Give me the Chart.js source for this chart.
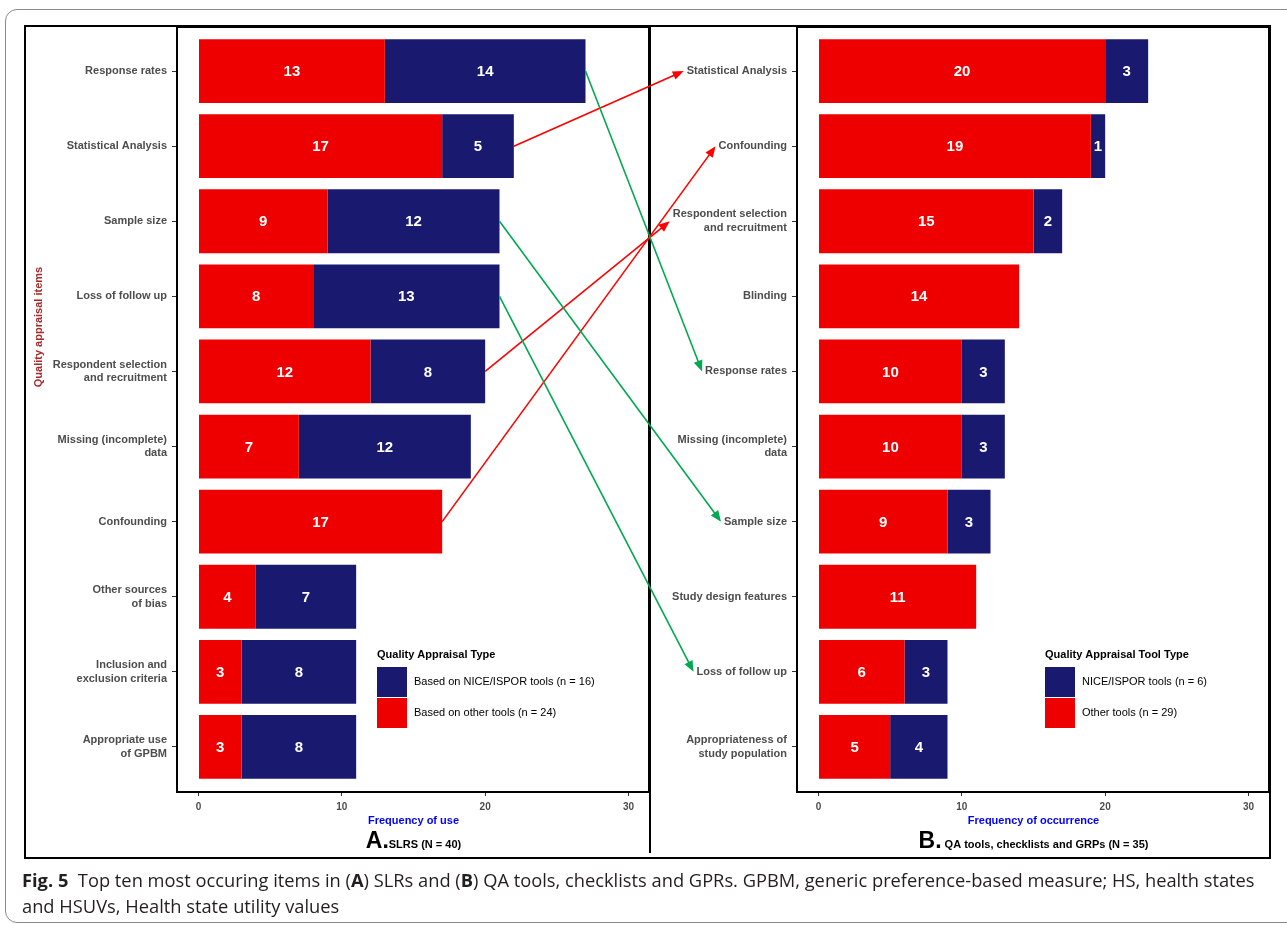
<!DOCTYPE html>
<html>
<head>
<meta charset="utf-8">
<script src="https://cdn.jsdelivr.net/npm/chart.js@4.4.0/dist/chart.umd.min.js"></script>
<style>
  body { margin: 0; width: 1287px; height: 925px; position: relative; background: #fff; overflow: hidden; font-family: "Liberation Sans", Arial, sans-serif; }
  #cadre { position: absolute; left: 5px; top: 9px; width: 1300px; height: 914px; border: 1px solid #8a8a8a; border-radius: 12px; box-sizing: border-box; }
  #wrapA { position: absolute; left: 25px; top: 26px; width: 625px; height: 832px; }
  #wrapB { position: absolute; left: 650px; top: 26px; width: 620px; height: 832px; }
  #setas { position: absolute; left: 0; top: 0; pointer-events: none; }
  .legenda { position: absolute; left: 22px; font-family: "Open Sans", "Noto Sans", sans-serif; font-size: 18.3px; color: #231f20; white-space: nowrap; }
</style>
</head>
<body>
<div id="cadre"></div>
<div id="wrapA"><canvas id="graficoA" width="625" height="832"></canvas></div>
<div id="wrapB"><canvas id="graficoB" width="620" height="832"></canvas></div>
<canvas id="setas" width="1287" height="925"></canvas>
<div class="legenda" style="top:867px"><b>Fig. 5</b>&nbsp; Top ten most occuring items in (<b>A</b>) SLRs and (<b>B</b>) QA tools, checklists and GPRs. GPBM, generic preference-based measure; HS, health states</div>
<div class="legenda" style="top:893px">and HSUVs, Health state utility values</div>

<script>
// painel A: SLRs
const itensA = [
  "Response rates", "Statistical Analysis", "Sample size", "Loss of follow up",
  ["Respondent selection", "and recruitment"], ["Missing (incomplete)", "data"],
  "Confounding", ["Other sources", "of bias"], ["Inclusion and", "exclusion criteria"],
  ["Appropriate use", "of GPBM"]
];
const outrasA = [13, 17, 9, 8, 12, 7, 17, 4, 3, 3];
const niceA = [14, 5, 12, 13, 8, 12, 0, 7, 8, 8];

// painel B: ferramentas QA
const itensB = [
  "Statistical Analysis", "Confounding", ["Respondent selection", "and recruitment"],
  "Blinding", "Response rates", ["Missing (incomplete)", "data"], "Sample size",
  "Study design features", "Loss of follow up", ["Appropriateness of", "study population"]
];
const outrasB = [20, 19, 15, 14, 10, 10, 9, 11, 6, 5];
const niceB = [3, 1, 2, 0, 3, 3, 3, 0, 3, 4];

const ticksX = [0, 10, 20, 30];

// setas: [indice em A, indice em B, cor]
const ligacoes = [
  [1, 0, "#ff0000"],
  [4, 2, "#ff0000"],
  [6, 1, "#ff0000"],
  [0, 4, "#00a84f"],
  [2, 6, "#00a84f"],
  [3, 8, "#00a84f"]
];

const VERMELHO = "#ee0000";
const AZUL = "#191970";
const CINZA = "#4d4d4d";
const FONTE = "'Liberation Sans', Arial, sans-serif";

const painelPlugin = {
  id: "painel",
  afterDatasetsDraw(chart) {
    const ctx = chart.ctx;
    ctx.save();
    ctx.font = "bold 15px " + FONTE;
    ctx.fillStyle = "#fff";
    ctx.textAlign = "center";
    ctx.textBaseline = "middle";
    chart.data.datasets.forEach((ds, i) => {
      chart.getDatasetMeta(i).data.forEach((barra, j) => {
        const v = ds.data[j].x;
        if (!v) return;
        ctx.fillText(v, (barra.x + barra.base) / 2, barra.y + 1);
      });
    });
    ctx.restore();
  },
  afterDraw(chart, args, opts) {
    const ctx = chart.ctx;
    const ca = chart.chartArea;
    ctx.save();
    // moldura do painel
    ctx.strokeStyle = "#000";
    ctx.lineWidth = 2;
    ctx.strokeRect(ca.left, ca.top + 1, ca.width - 1, ca.height - 1);

    // legenda
    const lx = ca.left + opts.legX;
    const ly = ca.top + opts.legY;
    ctx.fillStyle = "#000";
    ctx.font = "bold 11px " + FONTE;
    ctx.textAlign = "left";
    ctx.textBaseline = "middle";
    ctx.fillText(opts.legTitulo, lx, ly);
    const ordem = [1, 0];
    ordem.forEach((d, k) => {
      const ds = chart.data.datasets[d];
      const ky = ly + 12 + k * 31;
      ctx.fillStyle = ds.backgroundColor;
      ctx.fillRect(lx, ky, 30, 30);
      ctx.fillStyle = "#000";
      ctx.font = "11px " + FONTE;
      ctx.fillText(ds.label, lx + 37, ky + 15);
    });

    // titulo do eixo x
    const cx = (ca.left + ca.right) / 2;
    ctx.textAlign = "center";
    ctx.fillStyle = "#0000ff";
    ctx.font = "bold 11px " + FONTE;
    ctx.fillText(opts.tituloX, cx, ca.bottom + 29);

    // letra do painel
    ctx.font = "bold 23px " + FONTE;
    const wL = ctx.measureText(opts.letra).width;
    ctx.font = "bold 11px " + FONTE;
    const wS = ctx.measureText(opts.subtitulo).width;
    const x0 = cx - (wL + wS) / 2;
    ctx.textAlign = "left";
    ctx.textBaseline = "alphabetic";
    ctx.fillStyle = "#000";
    ctx.font = "bold 23px " + FONTE;
    ctx.fillText(opts.letra, x0, ca.bottom + 56);
    ctx.font = "bold 11px " + FONTE;
    ctx.fillText(opts.subtitulo, x0 + wL, ca.bottom + 56);

    // titulo do eixo y
    if (opts.tituloY) {
      ctx.translate(14, ca.top + ca.height * 0.393);
      ctx.rotate(-Math.PI / 2);
      ctx.textAlign = "center";
      ctx.textBaseline = "middle";
      ctx.fillStyle = "#a52a2a";
      ctx.fillText(opts.tituloY, 0, 0);
    }
    ctx.restore();
  }
};

function criarGrafico(id, itens, outras, nice, larguraY, nomes, extra) {
  return new Chart(document.getElementById(id), {
    type: "bar",
    data: {
      datasets: [
        { label: nomes[0], data: outras.map((v, i) => ({ x: v, y: i })), backgroundColor: VERMELHO },
        { label: nomes[1], data: nice.map((v, i) => ({ x: v, y: i })), backgroundColor: AZUL }
      ]
    },
    options: {
      indexAxis: "y",
      responsive: false,
      animation: false,
      events: [],
      layout: { padding: 0 },
      barPercentage: 0.85,
      categoryPercentage: 1,
      scales: {
        x: {
          type: "linear",
          stacked: true,
          offset: false,
          min: -1.5,
          max: 31.5,
          afterBuildTicks: s => { s.ticks = ticksX.map(v => ({ value: v })); },
          afterFit: s => { s.height = 66; s.paddingLeft = 0; s.paddingRight = 0; },
          grid: { offset: false, drawOnChartArea: false, drawTicks: true, tickLength: 4, color: "#333" },
          border: { display: false },
          ticks: { color: CINZA, font: { family: FONTE, size: 10, weight: "bold" }, padding: 5 }
        },
        y: {
          type: "linear",
          stacked: true,
          reverse: true,
          offset: false,
          min: -0.6,
          max: 9.6,
          afterBuildTicks: s => { s.ticks = itens.map((_, i) => ({ value: i })); },
          afterFit: s => { s.width = larguraY; s.paddingTop = 0; s.paddingBottom = 0; },
          grid: { offset: false, drawOnChartArea: false, drawTicks: true, tickLength: 5, color: "#333" },
          border: { display: false },
          ticks: {
            autoSkip: false,
            color: CINZA,
            font: { family: FONTE, size: 11, weight: "bold", lineHeight: 1.25 },
            padding: 5,
            callback: v => itens[v]
          }
        }
      },
      plugins: {
        legend: { display: false },
        tooltip: { enabled: false },
        painel: extra
      }
    },
    plugins: [painelPlugin]
  });
}

const graficoA = criarGrafico("graficoA", itensA, outrasA, niceA, 152,
  ["Based on other tools (n = 24)", "Based on NICE/ISPOR tools (n = 16)"],
  { legX: 200, legY: 629, legTitulo: "Quality Appraisal Type", tituloX: "Frequency of use",
    letra: "A.", subtitulo: "SLRS (N = 40)", tituloY: "Quality appraisal items" });

const graficoB = criarGrafico("graficoB", itensB, outrasB, niceB, 147,
  ["Other tools (n = 29)", "NICE/ISPOR tools (n = 6)"],
  { legX: 248, legY: 629, legTitulo: "Quality Appraisal Tool Type", tituloX: "Frequency of occurrence",
    letra: "B.", subtitulo: " QA tools, checklists and GRPs (N = 35)" });

// setas entre os paineis
const sc = document.getElementById("setas");
const ctx = sc.getContext("2d");
const offA = { x: 25, y: 26 };
const offB = { x: 650, y: 26 };

ctx.strokeStyle = "#000";
ctx.lineWidth = 2;
ctx.strokeRect(25, 26, 1245, 832);
ctx.beginPath();
ctx.moveTo(650, 26);
ctx.lineTo(650, 853);
ctx.stroke();

function seta(x1, y1, x2, y2, cor) {
  const ang = Math.atan2(y2 - y1, x2 - x1);
  ctx.strokeStyle = cor;
  ctx.fillStyle = cor;
  ctx.lineWidth = 1.6;
  ctx.beginPath();
  ctx.moveTo(x1, y1);
  ctx.lineTo(x2 - 8 * Math.cos(ang), y2 - 8 * Math.sin(ang));
  ctx.stroke();
  ctx.beginPath();
  ctx.moveTo(x2, y2);
  ctx.lineTo(x2 - 11 * Math.cos(ang) + 4.5 * Math.sin(ang), y2 - 11 * Math.sin(ang) - 4.5 * Math.cos(ang));
  ctx.lineTo(x2 - 11 * Math.cos(ang) - 4.5 * Math.sin(ang), y2 - 11 * Math.sin(ang) + 4.5 * Math.cos(ang));
  ctx.closePath();
  ctx.fill();
}

ctx.font = "bold 11px " + FONTE;
ligacoes.forEach(([ia, ib, cor]) => {
  const total = outrasA[ia] + niceA[ia];
  const x1 = offA.x + graficoA.scales.x.getPixelForValue(total);
  const y1 = offA.y + graficoA.scales.y.getPixelForValue(ia);
  const rot = [].concat(itensB[ib]);
  const w = Math.max(...rot.map(t => ctx.measureText(t).width));
  const x2 = offB.x + graficoB.chartArea.left - 10 - w - 3;
  const y2 = offB.y + graficoB.scales.y.getPixelForValue(ib);
  seta(x1, y1, x2, y2, cor);
});
</script>
</body>
</html>
